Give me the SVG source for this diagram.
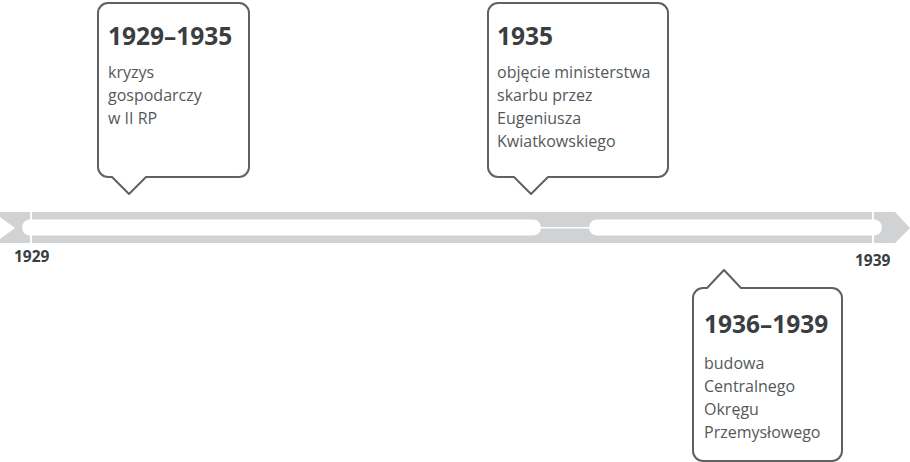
<svg xmlns="http://www.w3.org/2000/svg" width="910" height="462" viewBox="0 0 910 462">
<style>
.box{fill:#fff;stroke:#5f6264;stroke-width:2;stroke-linejoin:round}
.title{font-family:"Open Sans","Liberation Sans",sans-serif;font-weight:bold;font-size:24.5px;fill:#3a3e41}
.body{font-family:"Open Sans","Liberation Sans",sans-serif;font-size:16px;fill:#55585b}
.year{font-family:"Open Sans","Liberation Sans",sans-serif;font-weight:bold;font-size:15.5px;fill:#3a3e41}
.bar{fill:#d1d2d4}
.gap{fill:#fff}
</style>
<g id="timeline">
<polygon class="bar" points="0,212 895,212 910,228 895,243 0,243 0,239 15,228 0,217"/>
<rect class="gap" x="30" y="212" width="2" height="31"/>
<rect class="gap" x="872" y="212" width="2" height="31"/>
<rect class="gap" x="22" y="219.5" width="519" height="16" rx="8"/>
<rect class="gap" x="589" y="219.5" width="293" height="16" rx="8"/>
<rect class="gap" x="535" y="227" width="60" height="1.5"/>
<text class="year" x="14" y="262">1929</text>
<text class="year" x="855" y="266">1939</text>
</g>
<g id="connectors"></g>
<g id="node-1929-1935">
<path class="box" d="M108,3 H239 A10,10 0 0 1 249,13 V167 A10,10 0 0 1 239,177 H146 L129,194 L112,177 H108 A10,10 0 0 1 98,167 V13 A10,10 0 0 1 108,3 Z"/>
<text class="title" x="108" y="45">1929–1935</text>
<text class="body" x="108" y="78">kryzys</text>
<text class="body" x="108" y="101">gospodarczy</text>
<text class="body" x="108" y="124">w II RP</text>
</g>
<g id="node-1935">
<path class="box" d="M498,3 H658 A10,10 0 0 1 668,13 V167 A10,10 0 0 1 658,177 H548 L531,194 L514,177 H498 A10,10 0 0 1 488,167 V13 A10,10 0 0 1 498,3 Z"/>
<text class="title" x="497" y="45">1935</text>
<text class="body" x="497" y="78">objęcie ministerstwa</text>
<text class="body" x="497" y="101">skarbu przez</text>
<text class="body" x="497" y="124">Eugeniusza</text>
<text class="body" x="497" y="147">Kwiatkowskiego</text>
</g>
<g id="node-1936-1939">
<path class="box" d="M703,288 H707 L724,270 L741,288 H832 A10,10 0 0 1 842,298 V451 A10,10 0 0 1 832,461 H703 A10,10 0 0 1 693,451 V298 A10,10 0 0 1 703,288 Z"/>
<text class="title" x="704" y="333">1936–1939</text>
<text class="body" x="704" y="369">budowa</text>
<text class="body" x="704" y="392">Centralnego</text>
<text class="body" x="704" y="415">Okręgu</text>
<text class="body" x="704" y="438">Przemysłowego</text>
</g>
</svg>
